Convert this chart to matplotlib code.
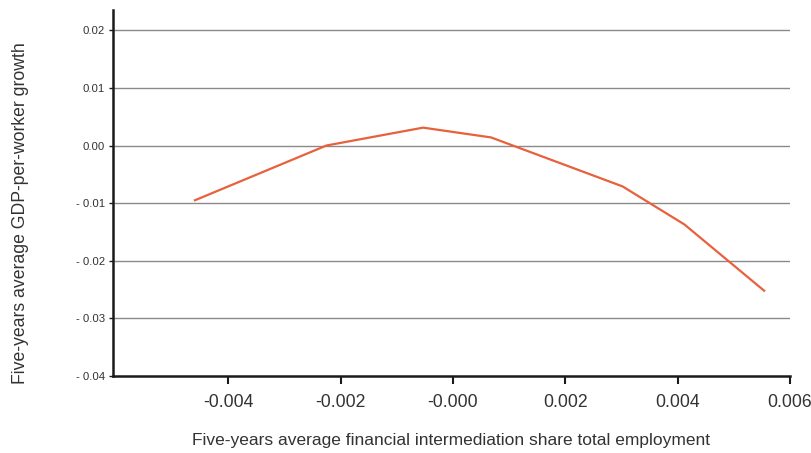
import matplotlib.pyplot as plt
from matplotlib.ticker import FixedLocator

plt.rcParams['font.family'] = ['Liberation Sans', 'DejaVu Sans']

# Data
fin_share = [-0.00459, -0.00225, -0.00053, 0.00068, 0.00302, 0.00412, 0.00554]
gdp_growth = [-0.0095, 0.0000, 0.0031, 0.0014, -0.0071, -0.0137, -0.0252]

x_ticks = [-0.004, -0.002, 0.000, 0.002, 0.004, 0.006]
x_tick_labels = ["-0.004", "-0.002", "-0.000", "0.002", "0.004", "0.006"]
y_ticks = [-0.04, -0.03, -0.02, -0.01, 0.00, 0.01, 0.02]
y_tick_labels = ["- 0.04", "- 0.03", "- 0.02", "- 0.01", "0.00", "0.01", "0.02"]

fig = plt.figure(figsize=(8.11, 4.53), dpi=100)
ax = fig.add_axes([0.1393, 0.170, 0.8348, 0.809])

for y in y_ticks[1:]:
    ax.axhline(y, color="#8a8a8a", lw=1.0, zorder=1)

ax.plot(fin_share, gdp_growth, color="#e8603c", lw=1.6, zorder=3)

ax.set_xlim(-0.00605, 0.006)
ax.set_ylim(-0.04, 0.0236)

ax.xaxis.set_major_locator(FixedLocator(x_ticks))
ax.set_xticklabels(x_tick_labels)
ax.yaxis.set_major_locator(FixedLocator(y_ticks))
ax.set_yticklabels(y_tick_labels)

for s in ["top", "right"]:
    ax.spines[s].set_visible(False)
for s in ["left", "bottom"]:
    ax.spines[s].set_linewidth(1.8)
    ax.spines[s].set_color("#1a1a1a")

ax.tick_params(axis="x", direction="out", length=6, width=1.5, labelsize=12.7,
               colors="#1a1a1a", labelcolor="#333333", pad=7)
ax.tick_params(axis="y", direction="out", length=3, width=1.0, labelsize=8.2,
               colors="#1a1a1a", labelcolor="#333333", pad=3)

ax.set_xlabel("Five-years average financial intermediation share total employment",
              fontsize=12.5, color="#333333")
ax.set_ylabel("Five-years average GDP-per-worker growth",
              fontsize=12.7, color="#333333")
# place axis titles where they sit in the original
ax.xaxis.set_label_coords(0.5, -0.155)
ax.yaxis.set_label_coords(-0.124, 0.445)

fig.savefig("out.png", dpi=100)
